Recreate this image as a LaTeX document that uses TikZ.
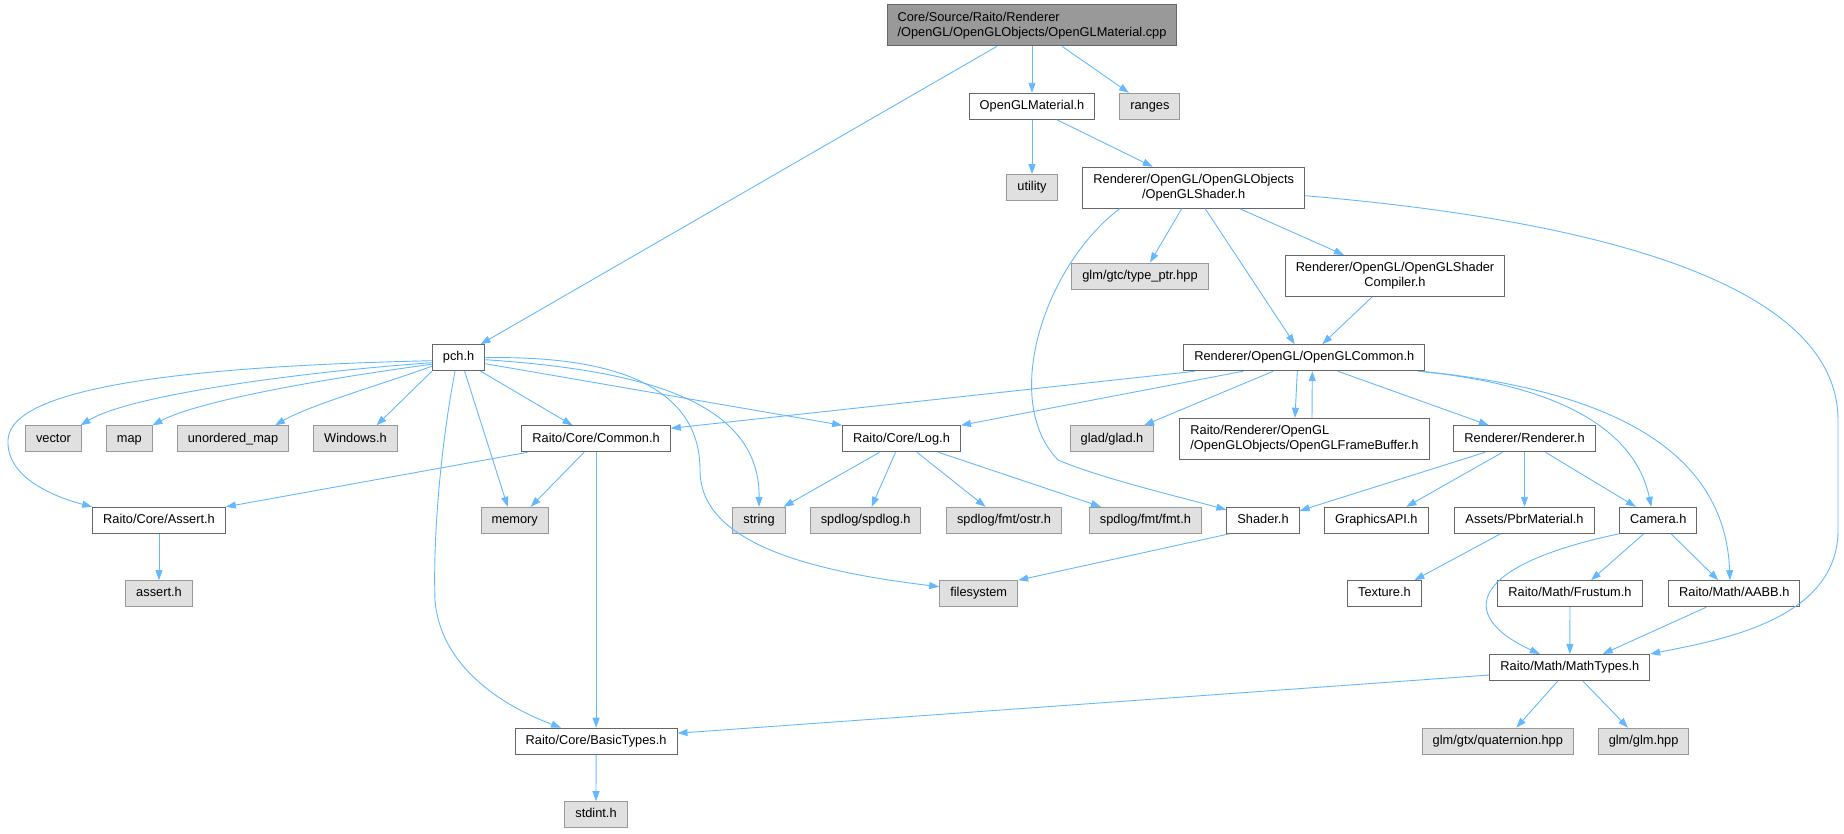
\documentclass[tikz,border=0pt]{standalone}
\usepackage{fontspec}
\setmainfont{Liberation Sans}
\usetikzlibrary{positioning,arrows.meta}
\definecolor{edgeblue}{HTML}{63B8FF}
\definecolor{boxgray}{HTML}{666666}
\definecolor{sysgray}{HTML}{999999}
\definecolor{sysfill}{HTML}{E0E0E0}
\definecolor{rootfill}{HTML}{999999}

\begin{document}
\begin{tikzpicture}
[x=1pt,y=-1pt,
 fbox/.style={rectangle,draw,line width=1pt,inner xsep=10.5pt,inner ysep=0pt,minimum height=26pt,
   text height=9.2pt,text depth=2.7pt,font=\fontsize{12.8}{15}\selectfont},
 file/.style={fbox,draw=boxgray,fill=white},
 sys/.style={fbox,draw=sysgray,fill=sysfill},
 main/.style={fbox,draw=boxgray,fill=rootfill},
 twoline/.style={text height={},text depth={},minimum height=41pt},
 dep/.style={draw=edgeblue,line width=0.9pt,-{Triangle[length=10pt,width=7pt]}}]
\useasboundingbox (0,0) rectangle (1844,833);

\node[main,twoline,align=left] (cpp) at (1032,25.3) {Core/Source/Raito/Renderer\\/OpenGL/OpenGLObjects/OpenGLMaterial.cpp};
\node[file] (glmat) at (1032,106.3) {OpenGLMaterial.h};
\node[sys] (ranges) [right=24pt of glmat] {ranges};
\node[sys] (utility) at (1032,187.6) {utility};
\node[file,twoline,align=center] (glshader) at (1193.7,187.7) {Renderer/OpenGL/OpenGLObjects\\/OpenGLShader.h};
\node[sys] (typeptr) at (1140,276) {glm/gtc/type\_ptr.hpp};
\node[file,twoline,align=center] (compiler) at (1395,276) {Renderer/OpenGL/OpenGLShader\\Compiler.h};
\node[file] (pch) at (458.6,357.7) {pch.h};
\node[file] (glcommon) at (1304.3,357.7) {Renderer/OpenGL/OpenGLCommon.h};
% row of headers under pch.h
\node[sys] (vector) at (53.5,438.8) {vector};
\node[sys] (map) [right=24pt of vector] {map};
\node[sys] (umap) [right=24pt of map] {unordered\_map};
\node[sys] (windows) [right=24pt of umap] {Windows.h};
\node[file] (common) at (596.1,438.8) {Raito/Core/Common.h};
\node[file] (log) at (901.5,438.8) {Raito/Core/Log.h};
\node[sys] (glad) at (1112,438.8) {glad/glad.h};
\node[file,twoline,align=left] (framebuf) at (1304.5,438.8) {Raito/Renderer/OpenGL\\/OpenGLObjects/OpenGLFrameBuffer.h};
\node[file] (renderer) at (1524.5,438.8) {Renderer/Renderer.h};
% next row
\node[file] (assert) at (159,520.3) {Raito/Core/Assert.h};
\node[sys] (memory) at (514.7,520.3) {memory};
\node[sys] (string) at (759,520.3) {string};
\node[sys] (spdlog) at (865.6,520.3) {spdlog/spdlog.h};
\node[sys] (ostr) at (1004,520.3) {spdlog/fmt/ostr.h};
\node[sys] (fmt) at (1145.4,520.3) {spdlog/fmt/fmt.h};
\node[file] (shader) at (1263,520.3) {Shader.h};
\node[file] (gapi) at (1376.3,520.3) {GraphicsAPI.h};
\node[file] (pbr) at (1524.5,520.3) {Assets/PbrMaterial.h};
\node[file] (camera) at (1658.3,520.3) {Camera.h};
\node[sys] (asserth) at (159,593.7) {assert.h};
\node[sys] (filesystem) at (978.7,593.7) {filesystem};
\node[file] (texture) at (1384.4,593.7) {Texture.h};
\node[file] (frustum) at (1570,593.7) {Raito/Math/Frustum.h};
\node[file] (aabb) at (1734.3,593.7) {Raito/Math/AABB.h};
\node[file] (mathtypes) at (1569.8,667.5) {Raito/Math/MathTypes.h};
\node[file] (basic) at (596.1,741.2) {Raito/Core/BasicTypes.h};
\node[sys] (quat) at (1497.8,741.2) {glm/gtx/quaternion.hpp};
\node[sys] (glm) at (1643.6,741.2) {glm/glm.hpp};
\node[sys] (stdint) at (596,814.7) {stdint.h};

% OpenGLMaterial.cpp and OpenGLShader.h
\draw[dep] ([xshift=-35pt]cpp.south) -- ([xshift=22pt]pch.north);
\draw[dep] (cpp) -- (glmat);
\draw[dep] ([xshift=30pt]cpp.south) -- ([xshift=-21pt]ranges.north);
\draw[dep] (glmat) -- (utility);
\draw[dep] ([xshift=25pt]glmat.south) -- ([xshift=-41pt]glshader.north);
\draw[dep] ([xshift=-12pt]glshader.south) -- ([xshift=10pt]typeptr.north);
\draw[dep] ([xshift=46pt]glshader.south) -- ([xshift=-51pt]compiler.north);
\draw[dep] ([xshift=11.5pt]glshader.south) -- ([xshift=-9.6pt]glcommon.north);
\draw[dep] ([xshift=-74pt]glshader.south) .. controls (1045,265) and (1000,400) .. (1058,460)
  .. controls (1100,478) and (1180,497) .. ([yshift=-3pt]shader.north west);
\draw[dep] ([yshift=-8pt]glshader.east) .. controls (1650,225) and (1838,300) .. (1838,420)
  -- (1838,530) .. controls (1838,620) and (1720,640) .. (mathtypes.north east);
\draw[dep] ([xshift=-23pt]compiler.south) -- ([xshift=18pt]glcommon.north);

% OpenGLCommon.h
\draw[dep] ([xshift=-109pt]glcommon.south) -- ([yshift=-3pt]common.north east);
\draw[dep] ([xshift=-61pt]glcommon.south) -- (log.north east);
\draw[dep] ([xshift=-31pt]glcommon.south) -- ([xshift=32pt]glad.north);
\draw[dep] ([xshift=-7pt]glcommon.south) -- ([xshift=-9.5pt]framebuf.north);
\draw[dep] ([xshift=7.5pt]framebuf.north) -- ([xshift=8pt]glcommon.south);
\draw[dep] ([xshift=33.5pt]glcommon.south) -- ([xshift=-35.7pt]renderer.north);
\draw[dep] ([xshift=113.7pt]glcommon.south) .. controls (1560,385) and (1635,430) .. ([xshift=-7pt]camera.north);
\draw[dep] ([xshift=116pt]glcommon.south) .. controls (1610,390) and (1725,450) .. ([xshift=-4.3pt]aabb.north);

% Renderer.h, Camera.h and MathTypes.h
\draw[dep] ([xshift=-39.5pt]renderer.south) -- ([yshift=-4pt]shader.north east);
\draw[dep] ([xshift=-22pt]renderer.south) -- ([xshift=30pt]gapi.north);
\draw[dep] (renderer) -- (pbr);
\draw[dep] ([xshift=21pt]renderer.south) -- ([xshift=-22.4pt]camera.north);
\draw[dep] ([xshift=-24pt]pbr.south) -- ([xshift=30pt]texture.north);
\draw[dep] (camera.south west) .. controls (1470,565) and (1455,615) .. ([xshift=-30pt]mathtypes.north);
\draw[dep] ([xshift=-14.6pt]camera.south) -- ([xshift=21pt]frustum.north);
\draw[dep] ([xshift=12.7pt]camera.south) -- ([xshift=-16pt]aabb.north);
\draw[dep] (frustum) -- (mathtypes);
\draw[dep] ([xshift=-28pt]aabb.south) -- ([xshift=33pt]mathtypes.north);
\draw[dep] ([yshift=-7.5pt]mathtypes.west) -- ([yshift=8pt]basic.east);
\draw[dep] ([xshift=-12pt]mathtypes.south) -- ([xshift=18.5pt]quat.north);
\draw[dep] ([xshift=13pt]mathtypes.south) -- ([xshift=-15.6pt]glm.north);
\draw[dep] ([xshift=3pt]shader.south west) -- (filesystem.north east);

% pch.h
\draw[dep] ([yshift=-5pt]pch.west) .. controls (300,372) and (130,395) .. ([xshift=27pt]vector.north);
\draw[dep] ([yshift=-6.5pt]pch.west) .. controls (330,378) and (200,400) .. ([xshift=23pt]map.north);
\draw[dep] ([yshift=-8.5pt]pch.west) .. controls (380,385) and (310,405) .. ([xshift=42pt]umap.north);
\draw[dep] (pch.south west) -- ([xshift=21pt]windows.north);
\draw[dep] ([yshift=-3pt]pch.west) .. controls (200,366) and (10,385) .. (8,440)
  .. controls (6,478) and (55,497) .. (assert.north west);
\draw[dep] ([xshift=22pt]pch.south) -- ([xshift=-23.6pt]common.north);
\draw[dep] ([xshift=6pt]pch.south) -- ([xshift=-7pt]memory.north);
\draw[dep] ([xshift=-3.6pt]pch.south) .. controls (440,450) and (433,540) .. (435,600)
  .. controls (440,665) and (500,705) .. ([xshift=-35pt]basic.north);
\draw[dep] ([yshift=-6pt]pch.east) -- (log.north west);
\draw[dep] ([yshift=-2pt]pch.east) .. controls (640,370) and (760,400) .. (string.north);
\draw[dep] (pch.east) .. controls (640,355) and (700,400) .. (700,470)
  .. controls (700,540) and (800,570) .. ([yshift=7pt]filesystem.west);

% Common.h, Assert.h, Log.h, BasicTypes.h
\draw[dep] ([xshift=-68.6pt]common.south) -- (assert.north east);
\draw[dep] ([xshift=-12pt]common.south) -- ([xshift=16pt]memory.north);
\draw[dep] (common) -- (basic);
\draw[dep] (assert) -- (asserth);
\draw[dep] (basic) -- (stdint);
\draw[dep] ([xshift=-22pt]log.south) -- ([xshift=24.6pt]string.north);
\draw[dep] ([xshift=-6pt]log.south) -- ([xshift=6pt]spdlog.north);
\draw[dep] ([xshift=15.5pt]log.south) -- ([xshift=-18.4pt]ostr.north);
\draw[dep] ([xshift=37pt]log.south) -- ([xshift=-44.4pt]fmt.north);
\end{tikzpicture}
\end{document}
